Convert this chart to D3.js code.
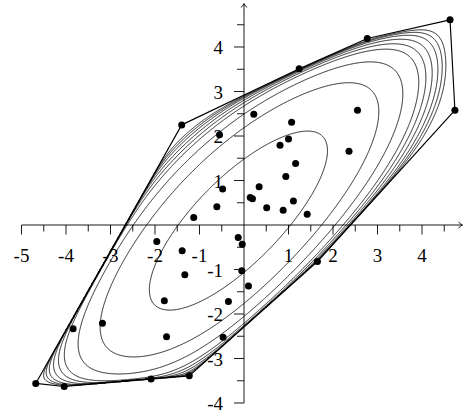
<!DOCTYPE html>
<html><head><meta charset="utf-8">
<script src="https://cdn.jsdelivr.net/npm/d3@7"></script>
<style>body{margin:0;background:#fff}svg{display:block}</style>
</head><body>
<script>
// ---- data ----
const ptX = [-4.68,-4.04,-3.84,-3.18,-2.09,-1.23,-1.74,-0.47,-1.79,-0.35,-1.33,-1.39,-1.96,-0.13,-0.04,-0.05,0.10,1.65,-1.13,-0.61,-0.48,0.14,0.19,0.34,0.51,0.88,1.11,1.42,0.94,1.16,0.81,1.00,1.07,2.36,2.55,-0.55,0.22,-1.40,1.24,2.77,4.63,4.74];
const ptY = [-3.56,-3.63,-2.33,-2.21,-3.46,-3.39,-2.51,-2.52,-1.70,-1.72,-1.12,-0.58,-0.37,-0.28,-0.43,-1.03,-1.37,-0.82,0.17,0.41,0.81,0.62,0.59,0.86,0.39,0.33,0.54,0.24,1.09,1.38,1.79,1.93,2.31,1.66,2.58,2.03,2.49,2.25,3.51,4.19,4.61,2.58];
// contour levels of the depth potential (above its minimum)
const levels = [3.55, 8.9, 12.35, 15.05, 16.4, 17.7, 19.0, 20.1, 21.2];
const xTicks = [-5,-4,-3,-2,-1,1,2,3,4];
const yTicks = [-4,-3,-2,-1,1,2,3,4];
const xMinor = [-4.5,-3.5,-2.5,-1.5,-0.5,0.5,1.5,2.5,3.5,4.5];
const yMinor = [-3.5,-2.5,-1.5,-0.5,0.5,1.5,2.5,3.5,4.5];
const kappa = 3;   // weight of the Mahalanobis term

const W = 464, H = 415;
const x = d3.scaleLinear().domain([-5, 5]).range([21.5, 466.5]);
const y = d3.scaleLinear().domain([-4, 4.5]).range([403, 24.75]);
const svg = d3.select("body").append("svg").attr("width", W).attr("height", H);

const pts = ptX.map((v, i) => [v, ptY[i]]);
const n = pts.length;
const hull = d3.polygonHull(pts);
const mx = d3.mean(ptX), my = d3.mean(ptY);
let sxx = 0, syy = 0, sxy = 0;
pts.forEach(([a, b]) => { sxx += (a - mx) ** 2; syy += (b - my) ** 2; sxy += (a - mx) * (b - my); });
sxx /= n - 1; syy /= n - 1; sxy /= n - 1;
const det = sxx * syy - sxy * sxy;
const edges = hull.map((p, i) => {
  const q = hull[(i + 1) % hull.length];
  let nx = -(q[1] - p[1]), ny = q[0] - p[0];
  const L = Math.hypot(nx, ny); nx /= L; ny /= L;
  let c = -(nx * p[0] + ny * p[1]);
  if (nx * mx + ny * my + c < 0) { nx = -nx; ny = -ny; c = -c; }
  return [nx, ny, c];
});
function potential(px, py) {
  let s = 0;
  for (const [a, b, c] of edges) {
    const d = a * px + b * py + c;
    if (d <= 0) return Infinity;
    s -= Math.log(d);
  }
  const dx = px - mx, dy = py - my;
  return s + kappa * (syy * dx * dx - 2 * sxy * dx * dy + sxx * dy * dy) / det;
}
const step = 0.015, x0 = -5.3, y0 = -4.3;
const gx = Math.round(10.6 / step), gy = Math.round(9.4 / step);
const vals = new Float64Array(gx * gy);
let fmin = Infinity;
for (let j = 0; j < gy; j++) for (let i = 0; i < gx; i++) {
  const v = potential(x0 + i * step, y0 + j * step);
  vals[j * gx + i] = v; if (v < fmin) fmin = v;
}
for (let k = 0; k < vals.length; k++) vals[k] = isFinite(vals[k]) ? -(vals[k] - fmin) : -1e6;
const conts = d3.contours().size([gx, gy]).thresholds(levels.map(l => -l))(vals);
const proj = d3.geoTransform({ point(px, py) {
  this.stream.point(x(x0 + (px - 0.5) * step), y(y0 + (py - 0.5) * step));
}});
const gpath = d3.geoPath(proj);

svg.append("g").selectAll("path").data(conts).join("path")
  .attr("d", gpath).attr("fill", "none").attr("stroke", "#000").attr("stroke-width", 0.85);

const line = d3.line().x(d => x(d[0])).y(d => y(d[1])).curve(d3.curveLinearClosed);
svg.append("path").datum(hull).attr("d", line)
  .attr("fill", "none").attr("stroke", "#000").attr("stroke-width", 1.15).attr("stroke-linejoin", "round");

// axes
const ax = svg.append("g").attr("stroke", "#000").attr("stroke-width", 0.9).attr("fill", "none");
ax.append("line").attr("x1", x(-5)).attr("x2", 462).attr("y1", y(0)).attr("y2", y(0));
ax.append("line").attr("x1", x(0)).attr("x2", x(0)).attr("y1", y(-4)).attr("y2", 4);
ax.append("path").attr("d", `M${458.5},${y(0)-3.2} Q${460.5},${y(0)-0.6} ${462.5},${y(0)} Q${460.5},${y(0)+0.6} ${458.5},${y(0)+3.2}`);
ax.append("path").attr("d", `M${x(0)-3.2},${7.5} Q${x(0)-0.6},${5.5} ${x(0)},${3.5} Q${x(0)+0.6},${5.5} ${x(0)+3.2},${7.5}`);
ax.selectAll(".xM").data(xTicks).join("line").attr("x1", d => x(d)).attr("x2", d => x(d)).attr("y1", y(0)).attr("y2", y(0) + 9.5);
ax.selectAll(".xm").data(xMinor).join("line").attr("x1", d => x(d)).attr("x2", d => x(d)).attr("y1", y(0)).attr("y2", y(0) + 6.5);
ax.selectAll(".yM").data(yTicks).join("line").attr("y1", d => y(d)).attr("y2", d => y(d)).attr("x1", x(0)).attr("x2", x(0) - 10);
ax.selectAll(".ym").data(yMinor).join("line").attr("y1", d => y(d)).attr("y2", d => y(d)).attr("x1", x(0)).attr("x2", x(0) - 7);

const fmt = d => (d < 0 ? "-" : "") + Math.abs(d);
const lab = svg.append("g").attr("font-family", "'Liberation Serif', serif").attr("font-size", 19).attr("fill", "#000");
lab.selectAll(".xl").data(xTicks).join("text").attr("x", d => x(d)).attr("y", y(0) + 37).attr("text-anchor", "middle").text(fmt);
lab.selectAll(".yl").data(yTicks).join("text").attr("x", x(0) - 21).attr("y", d => y(d) + 7).attr("text-anchor", "end").text(fmt);

// points
svg.append("g").selectAll("circle").data(pts).join("circle")
  .attr("cx", d => x(d[0])).attr("cy", d => y(d[1])).attr("r", 3.5).attr("fill", "#000");
</script>
</body></html>
